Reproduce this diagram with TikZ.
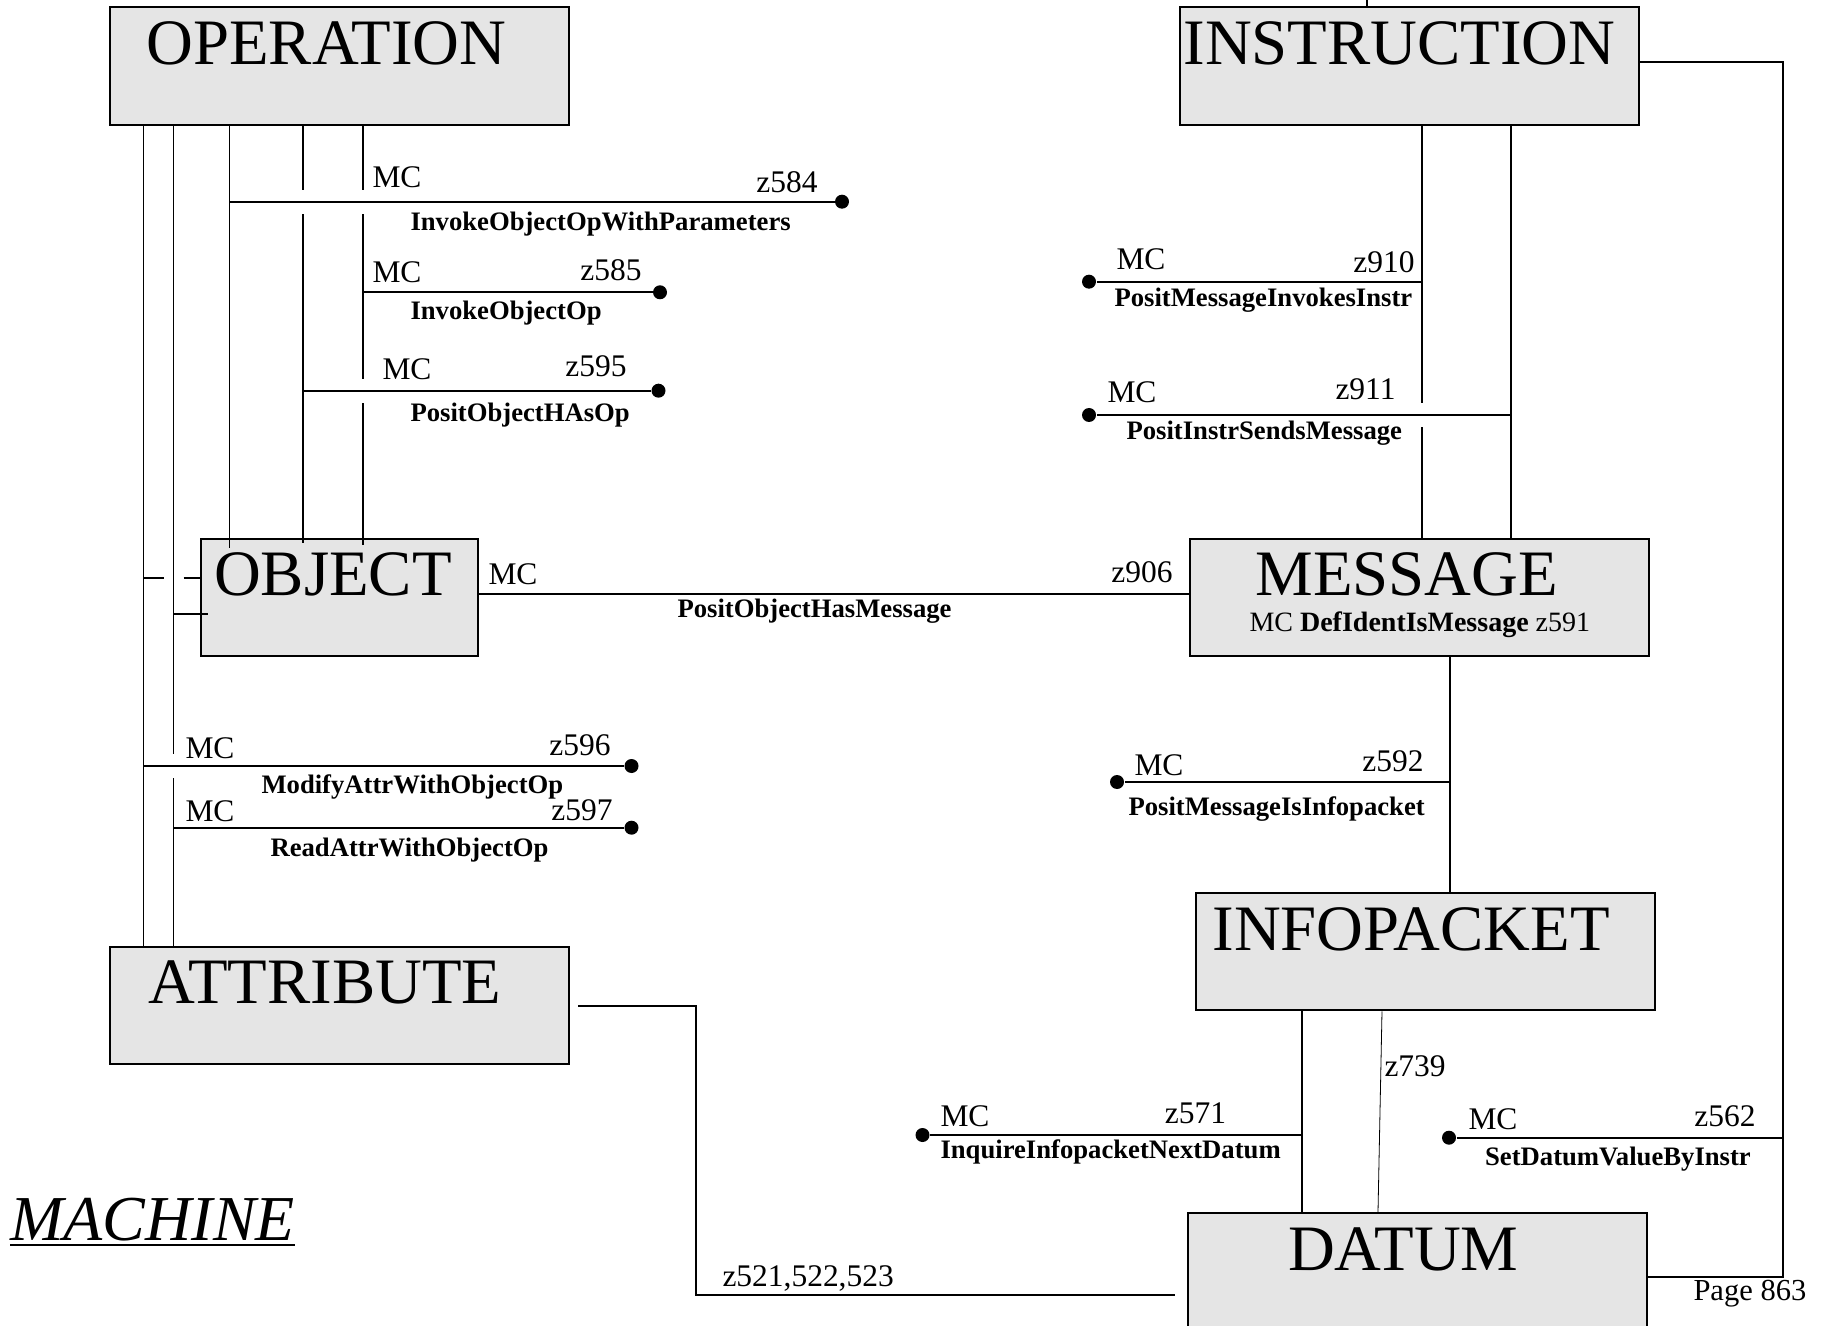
\documentclass[tikz,border=0pt]{standalone}
\usepackage{fontspec}
\setmainfont{Liberation Serif}
\usetikzlibrary{calc}

\tikzset{every picture/.style={line width=0.75pt}}
\tikzset{
  entity/.style={draw, line width=1.5pt, fill={rgb, 255:red, 229; green, 229; blue, 229 }, anchor=north west, inner sep=0pt, minimum width=344.25pt, minimum height=88pt},
  enttitle/.style={anchor=base west, inner sep=0pt, font=\fontsize{48.6pt}{51pt}\selectfont},
  mclabel/.style={anchor=base west, inner sep=0pt, font=\fontsize{23.6pt}{26pt}\selectfont},
  zlabel/.style={anchor=base east, inner sep=0pt, font=\fontsize{23.6pt}{26pt}\selectfont},
  relname/.style={anchor=base west, inner sep=0pt, font=\fontsize{20pt}{22pt}\selectfont\bfseries},
  stem/.style={line width=1pt},
  relline/.style={line width=1.5pt},
  linejump/.style={preaction={draw=white, line width=18pt, shorten <=3pt, shorten >=3pt}},
  endpt/.style={circle, fill, inner sep=0pt, minimum size=10.5pt}
}

\begin{document}
\begin{tikzpicture}[x=0.75pt,y=0.75pt,yscale=-1,xscale=1]
\clip (0,0) rectangle (1828,1326);

%Boxes
\node [entity] (operation) at (109,6.5) {};
\node [entity] (instruction) at (1179,6.5) {};
\node [entity, minimum width=207.4pt] (object) at (200,538) {};
\node [entity] (message) at (1189,538) {};
\node [entity] (attribute) at (109,946) {};
\node [entity] (infopacket) at (1195,892) {};
\node [entity, minimum height=96pt] (datum) at (1187,1212) {};

%Tracks
\coordinate (tA) at (143.5,0);
\coordinate (tB) at (173.4,0);
\coordinate (tC) at (229.6,0);
\coordinate (tD) at (303,0);
\coordinate (tE) at (363,0);
\coordinate (tF) at (1422,0);
\coordinate (tG) at (1511,0);
\coordinate (tH) at (1450,0);
\coordinate (tI) at (1302,0);
\coordinate (tR) at (1783,0);
\coordinate (tStub) at (1367,0);
\coordinate (sTop) at (1382,0);
\coordinate (sBot) at (1378,0);
\coordinate (jObjA) at (0,578);
\coordinate (jObjB) at (0,614);
\coordinate (jMsg) at (0,594);
\coordinate (jLoop) at (0,62);
\coordinate (tJ) at (696.3,1295);
\coordinate (kDatum) at (1175,1295);

%Straight Lines
\draw [stem] (operation.south -| tA) -- (attribute.north -| tA);
\draw [stem] (operation.south -| tB) -- (attribute.north -| tB);
\draw [stem] (operation.south -| tC) -- ($(object.north -| tC)+(0,10)$);
\draw [stem] (operation.south -| tD) -- ($(object.north -| tD)+(0,5)$);
\draw [stem] (operation.south -| tE) -- ($(object.north -| tE)+(0,7)$);
\draw [stem] (tA |- jObjA) -- ++(20,0) ++(20,0) -- (object.west |- jObjA);
\draw [stem] (tB |- jObjB) -- ($(object.west |- jObjB)+(8,0)$);
\draw [stem] (instruction.north -| tStub) -- (tStub);
\draw [stem] (instruction.south -| tF) -- (message.north -| tF);
\draw [stem] (instruction.south -| tG) -- (message.north -| tG);
\draw [stem] (message.south -| tH) -- (infopacket.north -| tH);
\draw [stem] (infopacket.south -| tI) -- (datum.north -| tI);
\draw [line width=0.6pt] (infopacket.south -| sTop) -- (datum.north -| sBot);

%Relationship lines
\node [endpt] (e584) at (842,201.7) {};
\draw [relline, linejump] (tC |- e584) -- (e584);
\node [endpt] (e585) at (660,292.3) {};
\draw [relline] (tE |- e585) -- (e585);
\node [endpt] (e595) at (658.5,390.7) {};
\draw [relline, linejump] (tD |- e595) -- (e595);
\node [endpt] (e596) at (631.5,766) {};
\draw [relline, linejump] (tA |- e596) -- (e596);
\node [endpt] (e597) at (631.5,827.7) {};
\draw [relline] (tB |- e597) -- (e597);
\node [endpt] (e910) at (1089,281.7) {};
\draw [relline] (tF |- e910) -- (e910);
\node [endpt] (e911) at (1089,415) {};
\draw [relline, linejump] (tG |- e911) -- (e911);
\node [endpt] (e592) at (1117,782) {};
\draw [relline] (tH |- e592) -- (e592);
\node [endpt] (e571) at (922.5,1135) {};
\draw [relline] (tI |- e571) -- (e571);
\node [endpt] (e562) at (1449,1137.7) {};
\draw [relline] (tR |- e562) -- (e562);
\draw [relline] (object.east |- jMsg) -- (message.west |- jMsg);
\draw [relline] (instruction.east |- jLoop) -| (tR |- datum.east) -- (datum.east);
\draw [relline] ($(attribute.east)+(8,0)$) -| (tJ) -- (kDatum);

% Text Node
\node [enttitle] (operationtitle) at (146,65) {OPERATION};
\node [enttitle] (instructiontitle) at (1183,65) {INSTRUCTION};
\node [enttitle] (objecttitle) at (213.5,595.7) {OBJECT};
\node [enttitle] (messagetitle) at (1255,595.7) {MESSAGE};
\node [anchor=base west, inner sep=0pt, font=\fontsize{21pt}{23pt}\selectfont] (messagesub) at (1249,631.7) {MC \textbf{DefIdentIsMessage} z591};
\node [enttitle] (attributetitle) at (148,1003) {ATTRIBUTE};
\node [enttitle] (infopackettitle) at (1212,950) {INFOPACKET};
\node [enttitle] (datumtitle) at (1287.6,1270) {DATUM};

% Text Node
\node [mclabel] (mc584) at (372,188) {MC};
\node [zlabel] (z584) at (818,193) {z584};
\node [relname] (r584) at (410,231) {InvokeObjectOpWithParameters};
\node [mclabel] (mc585) at (372,283) {MC};
\node [zlabel] (z585) at (642,281) {z585};
\node [relname] (r585) at (410,319.5) {InvokeObjectOp};
\node [mclabel] (mc595) at (382,380) {MC};
\node [zlabel] (z595) at (627,377) {z595};
\node [relname] (r595) at (410,421.5) {PositObjectHAsOp};

% Text Node
\node [mclabel] (mc910) at (1116,270) {MC};
\node [zlabel] (z910) at (1415,273) {z910};
\node [relname] (r910) at (1114,306.5) {PositMessageInvokesInstr};
\node [mclabel] (mc911) at (1107,403) {MC};
\node [zlabel] (z911) at (1396,400) {z911};
\node [relname] (r911) at (1126,439.5) {PositInstrSendsMessage};

% Text Node
\node [mclabel] (mc906) at (488,585) {MC};
\node [zlabel] (z906) at (1173,582) {z906};
\node [relname] (r906) at (677,617.5) {PositObjectHasMessage};

% Text Node
\node [mclabel] (mc596) at (185,758) {MC};
\node [zlabel] (z596) at (611,755) {z596};
\node [relname] (r596) at (261,793.5) {ModifyAttrWithObjectOp};
\node [mclabel] (mc597) at (185,821.7) {MC};
\node [zlabel] (z597) at (613,820.7) {z597};
\node [relname] (r597) at (270,856) {ReadAttrWithObjectOp};

% Text Node
\node [mclabel] (mc592) at (1134,775) {MC};
\node [zlabel] (z592) at (1424,771.7) {z592};
\node [relname] (r592) at (1128,815) {PositMessageIsInfopacket};

% Text Node
\node [mclabel] (mc571) at (940,1126) {MC};
\node [zlabel] (z571) at (1226.6,1123) {z571};
\node [relname] (r571) at (940,1158.5) {InquireInfopacketNextDatum};
\node [mclabel] (z739) at (1384,1076.7) {z739};
\node [mclabel] (mc562) at (1468,1129) {MC};
\node [zlabel] (z562) at (1756,1126.7) {z562};
\node [relname] (r562) at (1484.6,1165) {SetDatumValueByInstr};
\node [mclabel] (z521) at (722,1286.7) {z521,522,523};
\node [anchor=base west, inner sep=0pt, font=\fontsize{22.9pt}{25pt}\selectfont] (page) at (1693,1300) {Page 863};

% Text Node
\node [anchor=base west, inner sep=0pt, font=\fontsize{48pt}{50pt}\selectfont\itshape] (machine) at (10,1240.7) {MACHINE};
\draw [line width=1.5pt] ($(machine.base west)+(0,4.5)$) -- ($(machine.base east)+(0,4.5)$);

\end{tikzpicture}
\end{document}
